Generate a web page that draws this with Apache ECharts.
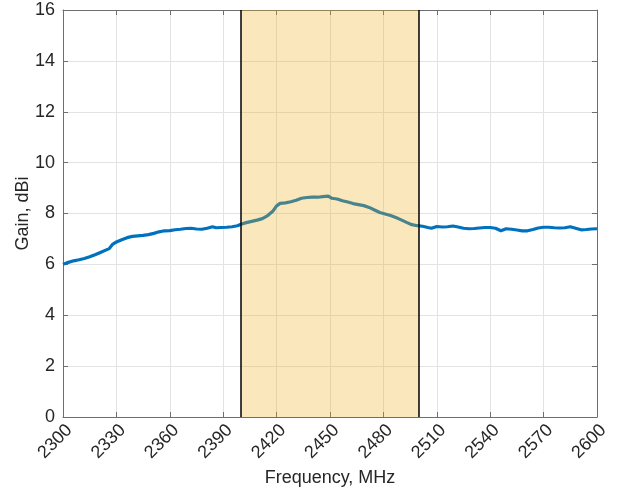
<!DOCTYPE html>
<html>
<head>
<meta charset="utf-8">
<script src="https://cdn.jsdelivr.net/npm/echarts@6/dist/echarts.min.js"></script>
<style>
html,body{margin:0;padding:0;background:#fff;}
#chart{width:622px;height:493px;}
</style>
</head>
<body>
<div id="chart"></div>
<script>
const freq = [2300,2303,2306,2309,2312,2315,2318,2321,2324,2326,2328,2330,2333,2336,2339,2342,2345,2348,2351,2354,2357,2360,2363,2366,2369,2372,2375,2378,2381,2384,2386,2389,2392,2395,2398,2400,2403,2406,2409,2412,2415,2418,2420,2422,2425,2428,2431,2434,2437,2440,2443,2446,2449,2451,2454,2457,2460,2463,2466,2469,2472,2475,2478,2481,2484,2487,2490,2493,2496,2499,2502,2505,2507,2510,2513,2516,2519,2522,2525,2528,2531,2534,2537,2540,2543,2546,2549,2552,2555,2558,2561,2564,2567,2570,2573,2576,2579,2582,2585,2588,2591,2594,2597,2600];
const gain = [6.00,6.08,6.14,6.18,6.23,6.30,6.38,6.47,6.56,6.62,6.80,6.88,6.97,7.05,7.10,7.12,7.14,7.17,7.22,7.28,7.32,7.33,7.36,7.38,7.41,7.42,7.39,7.38,7.42,7.48,7.44,7.45,7.46,7.48,7.52,7.58,7.64,7.69,7.74,7.80,7.92,8.10,8.30,8.40,8.42,8.46,8.52,8.60,8.63,8.64,8.64,8.66,8.68,8.60,8.57,8.50,8.45,8.39,8.35,8.31,8.24,8.14,8.04,7.98,7.92,7.84,7.75,7.65,7.56,7.52,7.50,7.45,7.42,7.49,7.47,7.48,7.51,7.47,7.42,7.40,7.41,7.43,7.45,7.45,7.42,7.32,7.40,7.38,7.35,7.32,7.32,7.37,7.43,7.46,7.46,7.44,7.43,7.44,7.48,7.42,7.36,7.37,7.39,7.40];
const band = [2400, 2500];
const xTicks = [2300,2330,2360,2390,2420,2450,2480,2510,2540,2570,2600];
const yTicks = [0,2,4,6,8,10,12,14,16];

const axisColor = '#6e6e6e';
const labelColor = '#262626';
const fontFamily = 'Liberation Sans, Arial, sans-serif';

const chart = echarts.init(document.getElementById('chart'), null, {renderer:'canvas'});
const baseX = {
  type:'value', min:xTicks[0], max:xTicks[xTicks.length-1], interval:xTicks[1]-xTicks[0],
  axisLine:{show:true, onZero:false, lineStyle:{color:axisColor, width:1}},
  axisTick:{show:true, inside:true, length:5, lineStyle:{color:axisColor}},
};
const baseY = {
  type:'value', min:yTicks[0], max:yTicks[yTicks.length-1], interval:yTicks[1]-yTicks[0],
  axisLine:{show:true, onZero:false, lineStyle:{color:axisColor, width:1}},
  axisTick:{show:true, inside:true, length:5, lineStyle:{color:axisColor}},
};
chart.setOption({
  animation:false,
  backgroundColor:'#fff',
  grid:{left:63, right:25, top:10, bottom:76, containLabel:false},
  xAxis:[
    Object.assign({}, baseX, {
      position:'bottom',
      name:'Frequency, MHz', nameLocation:'middle', nameGap:52, nameMoveOverlap:false,
      nameTextStyle:{color:labelColor, fontSize:18, fontFamily:fontFamily},
      axisLabel:{show:true, rotate:45, margin:4, verticalAlign:'top', color:labelColor, fontSize:18, fontFamily:fontFamily,
        formatter:v=>String(v)},
      splitLine:{show:true, lineStyle:{color:'#e3e3e3', width:1}}
    }),
    Object.assign({}, baseX, {
      position:'top',
      axisLabel:{show:false},
      splitLine:{show:false}
    })
  ],
  yAxis:[
    Object.assign({}, baseY, {
      position:'left',
      name:'Gain, dBi', nameLocation:'middle', nameGap:31, nameMoveOverlap:false,
      nameTextStyle:{color:labelColor, fontSize:18, fontFamily:fontFamily},
      axisLabel:{show:true, margin:8, color:labelColor, fontSize:18, fontFamily:fontFamily,
        formatter:v=>String(v)},
      splitLine:{show:true, lineStyle:{color:'#e3e3e3', width:1}}
    }),
    Object.assign({}, baseY, {
      position:'right',
      axisLabel:{show:false},
      splitLine:{show:false}
    })
  ],
  series:[
    {
      type:'line', xAxisIndex:0, yAxisIndex:0, z:2,
      data: freq.map((f,i)=>[f, gain[i]]),
      showSymbol:false, symbol:'none',
      lineStyle:{color:'#0072BD', width:3.2},
      silent:true
    },
    {
      type:'line', xAxisIndex:0, yAxisIndex:0, z:5,
      data:[], silent:true,
      markArea:{
        silent:true, z:10,
        itemStyle:{color:'rgba(237,177,32,0.3)', borderWidth:0},
        data:[[{xAxis:band[0]},{xAxis:band[1]}]]
      },
      markLine:{
        silent:true, z:11, symbol:['none','none'], label:{show:false},
        lineStyle:{color:'#000', width:1.5, type:'solid'},
        data: band.map(b=>({xAxis:b}))
      }
    }
  ]
});
</script>
</body>
</html>
